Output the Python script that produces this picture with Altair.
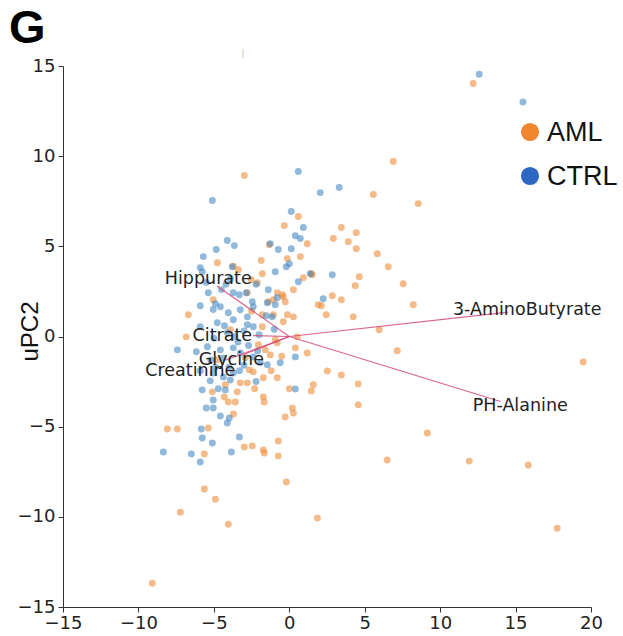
import altair as alt
import pandas as pd

# ---- data (score coordinates) ----
aml_x = [12.19, -2.98, 6.89, 5.57, 8.55, 3.45, 2.92, 3.91, 4.44, 4.44, 5.83, 6.56, 4.64, 4.37, 7.55, 8.22,
         2.85, 3.45, 2.12, 2.45, 4.24, 1.52, 5.96, 7.16, 1.19, 2.52, 3.45, 4.57, 1.59, 1.46, 4.57, 19.48,
         9.15, 6.49, 11.93, 15.84, 1.86, 17.76, -6.69, -6.83, -8.08, -7.42, -5.37, -5.63, -2.98, -2.45,
         -1.72, -1.66, -0.73, -0.73, -5.63, -4.90, -7.22, -4.04, -0.20, -9.08, -0.27, 0.20, 0.27, 0.00,
         -1.72, -1.66, -0.80, -1.72, -4.31, -4.04, -3.58, -3.45, -5.10, -2.65, -2.39, -3.25, -2.78, 0.40,
         -0.13, 0.27, -1.06, -1.79, -0.80, -1.26, 0.53, -4.24, 0.60, -0.33, 1.19, -1.33, -1.86, -0.13,
         0.73, -4.77, -1.79, 0.93, 1.46, 0.27, -2.12, -2.78, -0.80, -0.40, -1.06, -0.27, -5.04, 1.92,
         -1.79, -0.93, -1.39, -0.46, -0.40, -2.05, -1.59, -3.91, -4.77, -2.92, -3.38, -2.52,
         -2.3, -3.7, -1.2, -0.5, -2.5, -3.7]
aml_y = [14.03, 8.93, 9.71, 7.87, 7.37, 6.04, 5.43, 5.26, 5.76, 4.87, 4.59, 3.87, 3.32, 2.82, 2.93, 1.76,
         2.26, 2.04, 1.71, 1.21, 1.09, 3.43, 0.37, -0.79, -0.91, -1.91, -2.13, -2.63, -2.68, -3.02, -3.79, -1.41,
         -5.35, -6.85, -6.91, -7.13, -10.07, -10.63, 1.21, -0.02, -5.13, -5.13, -5.07, -6.51, -6.13, -6.07,
         -6.29, -6.46, -5.79, -6.63, -8.46, -9.02, -9.74, -10.41, -8.07, -13.68, -4.46, -3.96, -4.24, -2.90,
         -3.35, -3.63, -2.29, -2.29, -3.35, -3.63, -3.63, -3.07, -3.07, -1.85, -1.96, -2.57, -2.57, -0.63,
         1.21, 1.09, 1.21, 1.21, -0.35, -1.02, -0.02, -2.68, 6.65, 6.15, 5.15, 5.09, 4.21, 4.32,
         4.43, 4.09, 3.48, 3.26, 3.48, 2.59, 2.98, 2.43, 2.43, 2.21, 2.04, 1.93, 2.04, 1.76,
         0.54, -0.18, 1.93, 2.32, 0.82, -0.46, -0.74, 0.37, -1.29, -1.18, 3.70, 3.15,
         -2.9, -4.3, -1.9, -1.1, 1.4, 3.9]

ctrl_x = [12.59, 15.49, -5.10, 0.60, 2.05, 3.31, 0.13, 0.93, 0.40, 0.73, -0.73, 0.13, 0.00, -0.20, -0.93,
          -4.11, -3.64, -4.84, -5.70, -3.78, -5.90, -5.77, 0.60, -5.37, -3.71, -3.31, -2.85, -2.45, -5.90,
          -4.90, -4.57, -4.04, -2.78, -1.46, -1.52, -5.04, -3.25, -2.39, -0.93, -5.90, -4.77, -3.71, -2.78,
          -2.39, -4.11, -5.43, -4.57, -3.71, -7.42, -6.16, -3.25, -2.39, -1.92, -1.46, -0.60, 0.40, -5.04,
          -4.37, -3.91, -5.24, -3.71, -5.77, -4.24, 0.40, -5.04, -5.50, -5.04, -4.57, -3.98, -4.11, -5.83,
          -5.77, -5.10, -3.31, -8.35, -6.49, -5.90, -3.84, 1.39, 2.85, -1.39, -0.80, 2.25, -1.13,
          -4.4, -3.0, -3.6, -2.0, -4.9, -2.2, -3.4, -4.2, -2.2, -1.0, -1.26,
          -5.5, -4.5, -3.9, -5.2, -4.0, -3.3, -2.7, -4.7, -5.9, -2.1, -4.3, -5.0, -3.0]
ctrl_y = [14.54, 13.00, 7.54, 9.15, 7.98, 8.26, 6.93, 6.04, 5.59, 5.43, 4.82, 4.87, 4.04, 3.87, 3.59,
          5.32, 5.04, 4.82, 4.43, 3.87, 3.82, 3.59, 3.04, 2.43, 2.43, 2.32, 2.43, 1.93, 1.71,
          1.82, 1.65, 1.32, 1.09, 1.87, 1.15, 1.50, 1.48, 1.65, 1.76, 0.54, 0.76, 0.93, 0.65,
          0.54, 0.21, -0.57, -0.74, -0.63, -0.74, -0.85, -0.91, -1.13, -1.46, -1.57, -1.46, -1.13, -2.02,
          -2.24, -2.41, -2.46, -2.02, -2.96, -2.96, -2.91, -3.52, -3.96, -3.96, -4.41, -4.52, -4.79, -5.13,
          -5.63, -5.91, -5.57, -6.40, -6.51, -6.96, -6.40, 3.48, 3.42, 2.59, 2.15, 2.09, 1.09,
          -1.2, -1.6, 0.0, 0.1, -1.7, -2.5, -0.3, 2.9, 2.9, 0.4, 5.14,
          3.0, 2.6, 3.2, -1.3, -1.7, -1.9, -0.5, -2.9, -1.9, -0.8, 0.6, -0.1, 0.3]

vec_names = ["Hippurate", "Citrate", "Glycine", "Creatinine", "3-AminoButyrate", "PH-Alanine"]
vec_x = [-4.8, -2.4, -3.0, -4.2, 14.5, 14.0]
vec_y = [2.8, 0.05, -1.0, -1.3, 1.35, -3.6]
lab_x = [-5.37, -4.44, -3.84, -6.56, 15.77, 15.31]
lab_y = [3.21, 0.04, -1.29, -1.90, 1.48, -3.85]

x_ticks = [-15, -10, -5, 0, 5, 10, 15, 20]
y_ticks = [-15, -10, -5, 0, 5, 10, 15]

aml = pd.DataFrame({"x": aml_x, "y": aml_y})
ctrl = pd.DataFrame({"x": ctrl_x, "y": ctrl_y})
vec = pd.DataFrame({"name": vec_names, "x": vec_x, "y": vec_y, "lx": lab_x, "ly": lab_y})

xs = alt.Scale(domain=[-15, 20], nice=False, zero=False)
ys = alt.Scale(domain=[-15, 15], nice=False, zero=False)

xaxis = alt.Axis(values=x_ticks, title=None, grid=False, domainColor="#333", tickColor="#333",
                 tickSize=5, labelFontSize=18, labelFont="DejaVu Sans", labelColor="#222",
                 labelPadding=2, labelFlush=False)
yaxis = alt.Axis(values=y_ticks, title="uPC2", grid=False, domainColor="#333", tickColor="#333",
                 tickSize=5, labelFontSize=18, labelFont="DejaVu Sans", labelColor="#222",
                 labelPadding=3, titleFont="Liberation Sans", titleFontSize=24,
                 titleFontWeight="normal", titleColor="#111", titleAngle=270, titleX=-26,
                 titleY=265, titleAlign="center", titleBaseline="alphabetic")

pts_aml = alt.Chart(aml).mark_circle(size=48, color="#ee8f3f", opacity=0.62).encode(
    x=alt.X("x:Q", scale=xs, axis=xaxis),
    y=alt.Y("y:Q", scale=ys, axis=yaxis),
)
pts_ctrl = alt.Chart(ctrl).mark_circle(size=48, color="#3f87c2", opacity=0.58).encode(
    x=alt.X("x:Q", scale=xs),
    y=alt.Y("y:Q", scale=ys),
)

rules = alt.Chart(vec).mark_rule(color="#d4477a", strokeWidth=1.1, opacity=0.85).encode(
    x=alt.X("x:Q", scale=xs), y=alt.Y("y:Q", scale=ys),
    x2=alt.datum(0), y2=alt.datum(0),
)
labels = alt.Chart(vec).mark_text(font="DejaVu Sans", fontSize=17.5, color="#222",
                                  align="center", baseline="middle").encode(
    x=alt.X("lx:Q", scale=xs), y=alt.Y("ly:Q", scale=ys), text="name:N",
)

leg_df = pd.DataFrame({"g": ["AML"]})
leg_df2 = pd.DataFrame({"g": ["CTRL"]})
leg1_dot = alt.Chart(leg_df).mark_point(filled=True, size=330, color="#f0862e", opacity=1, shape="circle").encode(
    x=alt.value(467), y=alt.value(66))
leg1_txt = alt.Chart(leg_df).mark_text(font="Liberation Sans", fontSize=27, color="#111",
                                       align="left", baseline="middle").encode(
    x=alt.value(484), y=alt.value(67), text="g:N")
leg2_dot = alt.Chart(leg_df2).mark_point(filled=True, size=330, color="#2d66c3", opacity=1, shape="circle").encode(
    x=alt.value(467), y=alt.value(110))
leg2_txt = alt.Chart(leg_df2).mark_text(font="Liberation Sans", fontSize=27, color="#111",
                                        align="left", baseline="middle").encode(
    x=alt.value(484), y=alt.value(111), text="g:N")

panel = alt.Chart(pd.DataFrame({"t": ["G"]})).mark_text(
    font="Liberation Sans", fontSize=47, fontWeight="bold", color="#000",
    align="left", baseline="alphabetic").encode(x=alt.value(-54), y=alt.value(-23), text="t:N")
artifact = alt.Chart(pd.DataFrame({"t": ["|"]})).mark_text(
    font="DejaVu Sans", fontSize=9, color="#bbb", align="center", baseline="middle").encode(
    x=alt.value(180), y=alt.value(-13), text="t:N")

chart = alt.layer(pts_aml, pts_ctrl, rules, labels, leg1_dot, leg1_txt, leg2_dot, leg2_txt,
                  panel, artifact).properties(
    width=528, height=541, autosize="none",
    padding={"left": 63, "top": 66, "right": 32, "bottom": 29},
).configure_view(stroke=None)

chart.save("out.html", embed_options={"renderer": "svg", "actions": False})
